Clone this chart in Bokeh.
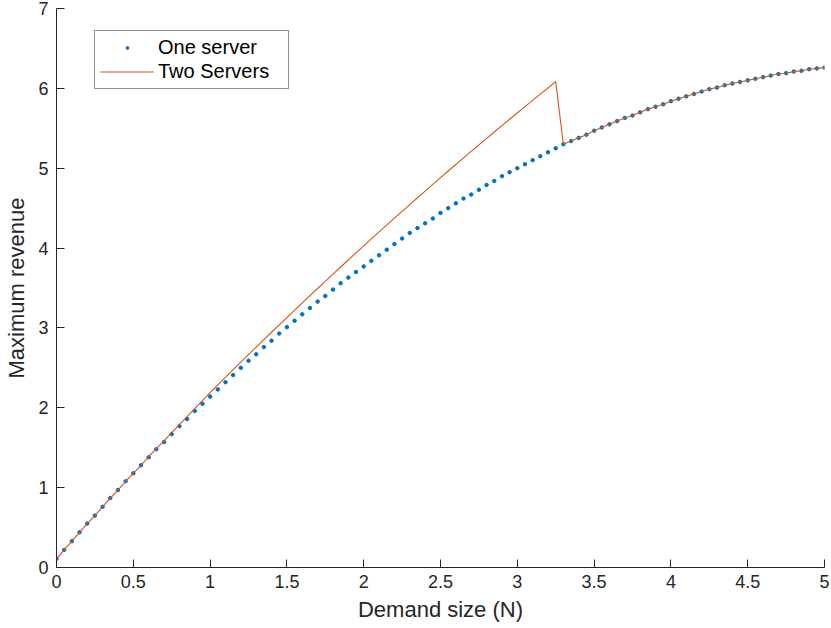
from bokeh.plotting import figure
from bokeh.models import Legend, LegendItem, FixedTicker, Range1d
from bokeh.embed import file_html
from bokeh.resources import INLINE

demand = [0.00, 0.05, 0.10, 0.15, 0.20, 0.25, 0.30, 0.35, 0.40, 0.45,
          0.50, 0.55, 0.60, 0.65, 0.70, 0.75, 0.80, 0.85, 0.90, 0.95,
          1.00, 1.05, 1.10, 1.15, 1.20, 1.25, 1.30, 1.35, 1.40, 1.45,
          1.50, 1.55, 1.60, 1.65, 1.70, 1.75, 1.80, 1.85, 1.90, 1.95,
          2.00, 2.05, 2.10, 2.15, 2.20, 2.25, 2.30, 2.35, 2.40, 2.45,
          2.50, 2.55, 2.60, 2.65, 2.70, 2.75, 2.80, 2.85, 2.90, 2.95,
          3.00, 3.05, 3.10, 3.15, 3.20, 3.25, 3.30, 3.35, 3.40, 3.45,
          3.50, 3.55, 3.60, 3.65, 3.70, 3.75, 3.80, 3.85, 3.90, 3.95,
          4.00, 4.05, 4.10, 4.15, 4.20, 4.25, 4.30, 4.35, 4.40, 4.45,
          4.50, 4.55, 4.60, 4.65, 4.70, 4.75, 4.80, 4.85, 4.90, 4.95,
          5.00]

one_server = [0.11, 0.22, 0.33, 0.44, 0.55, 0.65, 0.76, 0.87, 0.97, 1.08,
              1.18, 1.28, 1.38, 1.48, 1.57, 1.67, 1.77, 1.86, 1.96, 2.05,
              2.14, 2.23, 2.32, 2.41, 2.50, 2.59, 2.67, 2.76, 2.84, 2.93,
              3.01, 3.09, 3.17, 3.25, 3.33, 3.40, 3.48, 3.56, 3.63, 3.70,
              3.77, 3.84, 3.91, 3.98, 4.05, 4.12, 4.19, 4.25, 4.31, 4.37,
              4.44, 4.50, 4.56, 4.62, 4.67, 4.73, 4.79, 4.84, 4.90, 4.95,
              5.00, 5.05, 5.10, 5.15, 5.20, 5.25, 5.30, 5.34, 5.38, 5.42,
              5.47, 5.51, 5.55, 5.59, 5.63, 5.66, 5.70, 5.74, 5.77, 5.80,
              5.84, 5.87, 5.90, 5.93, 5.96, 5.99, 6.01, 6.04, 6.06, 6.08,
              6.10, 6.12, 6.14, 6.16, 6.18, 6.19, 6.21, 6.22, 6.24, 6.25,
              6.26]

two_servers = [0.11, 0.22, 0.33, 0.44, 0.55, 0.65, 0.76, 0.87, 0.97, 1.08,
               1.18, 1.28, 1.39, 1.49, 1.59, 1.69, 1.79, 1.89, 1.99, 2.09,
               2.19, 2.286, 2.382, 2.477, 2.571, 2.666, 2.759, 2.853, 2.946, 3.038,
               3.130, 3.222, 3.313, 3.404, 3.494, 3.584, 3.674, 3.763, 3.851, 3.940,
               4.027, 4.115, 4.202, 4.288, 4.374, 4.460, 4.545, 4.630, 4.714, 4.798,
               4.882, 4.965, 5.047, 5.130, 5.211, 5.293, 5.373, 5.454, 5.534, 5.613,
               5.692, 5.771, 5.849, 5.927, 6.004, 6.085, 5.30, 5.34, 5.38, 5.42,
               5.47, 5.51, 5.55, 5.59, 5.63, 5.66, 5.70, 5.74, 5.77, 5.80,
               5.84, 5.87, 5.90, 5.93, 5.96, 5.99, 6.01, 6.04, 6.06, 6.08,
               6.10, 6.12, 6.14, 6.16, 6.18, 6.19, 6.21, 6.22, 6.24, 6.25,
               6.26]

x_ticks = [0, 0.5, 1, 1.5, 2, 2.5, 3, 3.5, 4, 4.5, 5]
y_ticks = [0, 1, 2, 3, 4, 5, 6, 7]
series_names = ["One server", "Two Servers"]

FONT = "Liberation Sans"
DARK = "#262626"

p = figure(width=831, height=628, output_backend="svg", toolbar_location=None,
           x_range=Range1d(0, 5), y_range=Range1d(0, 7),
           min_border_left=56, min_border_right=7, min_border_top=8,
           min_border_bottom=61)
p.outline_line_color = None
p.xgrid.grid_line_color = None
p.ygrid.grid_line_color = None
p.background_fill_color = "white"
p.border_fill_color = "white"

r1 = p.scatter(demand, one_server, size=3.5, color="#0072BD", marker="circle")
r2 = p.line(demand, two_servers, line_width=1.1, color="#D95319")

for ax, ticks in ((p.xaxis[0], x_ticks), (p.yaxis[0], y_ticks)):
    ax.ticker = FixedTicker(ticks=ticks)
    ax.major_tick_in = 8
    ax.major_tick_out = 0
    ax.minor_tick_line_color = None
    ax.axis_line_color = DARK
    ax.major_tick_line_color = DARK
    ax.major_label_text_font = FONT
    ax.major_label_text_font_size = "18px"
    ax.major_label_text_color = DARK
    ax.axis_label_text_font = FONT
    ax.axis_label_text_font_size = "22px"
    ax.axis_label_text_font_style = "normal"
    ax.axis_label_text_color = DARK

p.xaxis.axis_label = "Demand size (N)"
p.yaxis.axis_label = "Maximum revenue"
p.xaxis.major_label_standoff = 7
p.yaxis.major_label_standoff = 8
p.xaxis.axis_label_standoff = 6
p.yaxis.axis_label_standoff = 6
p.xaxis.major_label_overrides = {0: "0", 1: "1", 2: "2", 3: "3", 4: "4", 5: "5"}

legend = Legend(items=[LegendItem(label=series_names[0], renderers=[r1]),
                       LegendItem(label=series_names[1], renderers=[r2])],
                location=(38, 478))
legend.label_text_font = FONT
legend.label_text_font_size = "20px"
legend.label_text_color = "black"
legend.border_line_color = DARK
legend.border_line_width = 1
legend.background_fill_color = "white"
legend.background_fill_alpha = 1
legend.padding = 5
legend.spacing = 1
legend.glyph_width = 54
legend.glyph_height = 7
legend.label_height = 22
legend.label_width = 125
legend.label_standoff = 4
legend.margin = 0
p.add_layout(legend)

open("out.html", "w").write(file_html(p, INLINE))
